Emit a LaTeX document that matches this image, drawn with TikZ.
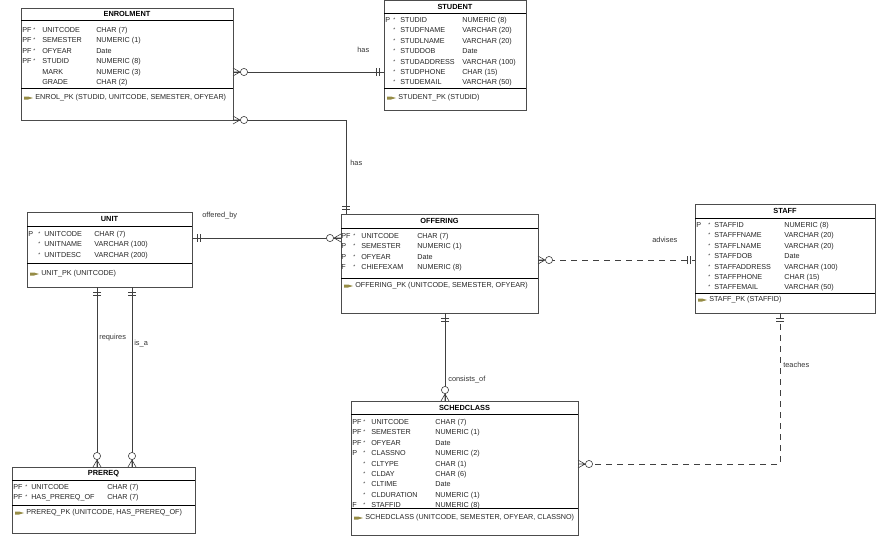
\documentclass[tikz,border=0pt]{standalone}
\usepackage{fontspec}
\setmainfont{Liberation Sans}
\usetikzlibrary{calc}
\definecolor{keyc}{RGB}{150,140,70}
\newcommand\ebox[8]{%
  \node[ent, minimum width=#4pt, minimum height=#5pt, anchor=north west] (#1) at (#2,#3) {};
  \draw (#1.north west) ++(0,#6) -- ++(#4,0);
  \draw[line width=0.9pt] (#1.north west) ++(0,#7) -- ++(#4,0);
  \node[ttl] (#1-t) at ($(#1.north west)+(#4/2,#6/2)$) {#8};
}
\newcommand\ekey[4]{%
  \fill[keyc] ($(#2,#3)+(3,-1.5)$) -- ++(4,0) -- ++(5,1.5) -- ++(-5,1.5) -- ++(-4,0) -- cycle;
  \node[txt, anchor=west] (#1) at ($(#2,#3)+(14,0)$) {#4};
}
\newcommand\stAr{\raisebox{-0.5ex}{\textsuperscript{*}}}
\begin{document}
\begin{tikzpicture}[x=1pt,y=-1pt,line width=0.6pt,
  ent/.style={draw=black!70, fill=white, inner sep=0pt, outer sep=0pt},
  ttl/.style={font=\fontsize{7.4}{8}\selectfont\bfseries, inner sep=0pt},
  txt/.style={font=\fontsize{7.2}{10.4}\selectfont, inner sep=0pt, text=black!85},
  lbl/.style={font=\fontsize{7.4}{8}\selectfont, inner sep=0pt, anchor=west, text=black!80},
  conn/.style={draw=black!75, line width=0.6pt},
  dconn/.style={conn, dash pattern=on 6pt off 5pt},
  pics/many0/.style={code={
    \draw[black!75] (0,-4)--(7,0)--(0,4) (0,0)--(7,0);
    \draw[black!75,fill=white] (11,0) circle (3.6);}},
  pics/one1/.style={code={
    \draw[black!75] (5,-4)--(5,4) (8,-4)--(8,4);}}]
\useasboundingbox (0,0) rectangle (885,547);

% ENROLMENT
\ebox{enrol}{21}{8}{212}{112}{12}{80}{ENROLMENT}
\node[txt, anchor=north west] (enrol-a) at (22,25) {\begin{tabular}{@{}p{11pt}@{}p{9pt}@{}p{54pt}@{}l@{}}
PF&\stAr&UNITCODE&CHAR (7)\\
PF&\stAr&SEMESTER&NUMERIC (1)\\
PF&\stAr&OFYEAR&Date\\
PF&\stAr&STUDID&NUMERIC (8)\\
&&MARK&NUMERIC (3)\\
&&GRADE&CHAR (2)\end{tabular}};
\ekey{enrol-k}{21}{98}{ENROL\_PK (STUDID, UNITCODE, SEMESTER, OFYEAR)}

% STUDENT
\ebox{stud}{384}{0.5}{142}{110}{12.5}{88}{STUDENT}
\node[txt, anchor=north west] (stud-a) at (385,15) {\begin{tabular}{@{}p{8pt}@{}p{7pt}@{}p{62pt}@{}l@{}}
P&\stAr&STUDID&NUMERIC (8)\\
&\stAr&STUDFNAME&VARCHAR (20)\\
&\stAr&STUDLNAME&VARCHAR (20)\\
&\stAr&STUDDOB&Date\\
&\stAr&STUDADDRESS&VARCHAR (100)\\
&\stAr&STUDPHONE&CHAR (15)\\
&\stAr&STUDEMAIL&VARCHAR (50)\end{tabular}};
\ekey{stud-k}{384}{98}{STUDENT\_PK (STUDID)}

% UNIT
\ebox{unit}{27}{212}{165}{75}{14}{51}{UNIT}
\node[txt, anchor=north west] (unit-a) at (28,229) {\begin{tabular}{@{}p{10pt}@{}p{6pt}@{}p{50pt}@{}l@{}}
P&\stAr&UNITCODE&CHAR (7)\\
&\stAr&UNITNAME&VARCHAR (100)\\
&\stAr&UNITDESC&VARCHAR (200)\end{tabular}};
\ekey{unit-k}{27}{274}{UNIT\_PK (UNITCODE)}

% OFFERING
\ebox{off}{341}{214}{197}{99}{14}{64}{OFFERING}
\node[txt, anchor=north west] (off-a) at (341,231) {\begin{tabular}{@{}p{12pt}@{}p{8pt}@{}p{56pt}@{}l@{}}
PF&\stAr&UNITCODE&CHAR (7)\\
P&\stAr&SEMESTER&NUMERIC (1)\\
P&\stAr&OFYEAR&Date\\
F&\stAr&CHIEFEXAM&NUMERIC (8)\end{tabular}};
\ekey{off-k}{341}{286}{OFFERING\_PK (UNITCODE, SEMESTER, OFYEAR)}

% STAFF
\ebox{staff}{695}{204}{180}{109}{14}{89}{STAFF}
\node[txt, anchor=north west] (staff-a) at (696,220) {\begin{tabular}{@{}p{12pt}@{}p{6pt}@{}p{70pt}@{}l@{}}
P&\stAr&STAFFID&NUMERIC (8)\\
&\stAr&STAFFFNAME&VARCHAR (20)\\
&\stAr&STAFFLNAME&VARCHAR (20)\\
&\stAr&STAFFDOB&Date\\
&\stAr&STAFFADDRESS&VARCHAR (100)\\
&\stAr&STAFFPHONE&CHAR (15)\\
&\stAr&STAFFEMAIL&VARCHAR (50)\end{tabular}};
\ekey{staff-k}{695}{300}{STAFF\_PK (STAFFID)}

% SCHEDCLASS
\ebox{sched}{351}{401}{227}{134}{13}{107}{SCHEDCLASS}
\node[txt, anchor=north west] (sched-a) at (352,417) {\begin{tabular}{@{}p{11pt}@{}p{8pt}@{}p{64pt}@{}l@{}}
PF&\stAr&UNITCODE&CHAR (7)\\
PF&\stAr&SEMESTER&NUMERIC (1)\\
PF&\stAr&OFYEAR&Date\\
P&\stAr&CLASSNO&NUMERIC (2)\\
&\stAr&CLTYPE&CHAR (1)\\
&\stAr&CLDAY&CHAR (6)\\
&\stAr&CLTIME&Date\\
&\stAr&CLDURATION&NUMERIC (1)\\
F&\stAr&STAFFID&NUMERIC (8)\end{tabular}};
\ekey{sched-k}{351}{518}{SCHEDCLASS (UNITCODE, SEMESTER, OFYEAR, CLASSNO)}

% PREREQ
\ebox{pre}{12}{467}{183}{66}{13}{38}{PREREQ}
\node[txt, anchor=north west] (pre-a) at (13,482) {\begin{tabular}{@{}p{12pt}@{}p{6pt}@{}p{76pt}@{}l@{}}
PF&\stAr&UNITCODE&CHAR (7)\\
PF&\stAr&HAS\_PREREQ\_OF&CHAR (7)\end{tabular}};
\ekey{pre-k}{12}{513}{PREREQ\_PK (UNITCODE, HAS\_PREREQ\_OF)}

% connector end points
\coordinate (e1) at (enrol.north east |- 0,72);
\coordinate (s1) at (stud.north west |- 0,72);
\coordinate (e2) at (enrol.south east);
\coordinate (b2) at (346,120);
\coordinate (o2) at (off.north west -| 346,0);
\coordinate (u3) at (unit.north east |- 0,238);
\coordinate (o3) at (off.north west |- 0,238);
\coordinate (o4) at (off.north east |- 0,260);
\coordinate (st4) at (staff.north west |- 0,260);
\coordinate (o5) at (off.south west -| 445,0);
\coordinate (sc5) at (sched.north west -| 445,0);
\coordinate (st6) at (staff.south west -| 780,0);
\coordinate (b6) at (780,464);
\coordinate (sc6) at (sched.north east |- 0,464);
\coordinate (u7) at (unit.south west -| 97,0);
\coordinate (p7) at (pre.north west -| 97,0);
\coordinate (u8) at (unit.south west -| 132,0);
\coordinate (p8) at (pre.north west -| 132,0);

\draw[conn] (e1) -- (s1);
\draw[conn] (e2) -- (b2) -- (o2);
\draw[conn] (u3) -- (o3);
\draw[dconn] (o4) -- (st4);
\draw[conn] (o5) -- (sc5);
\draw[dconn] (st6) -- (b6) -- (sc6);
\draw[conn] (u7) -- (p7);
\draw[conn] (u8) -- (p8);

\pic at (e1) {many0}; \pic[rotate=180] at (s1) {one1};
\pic at (e2) {many0}; \pic[rotate=90] at (o2) {one1};
\pic at (u3) {one1}; \pic[rotate=180] at (o3) {many0};
\pic at (o4) {many0}; \pic[rotate=180] at (st4) {one1};
\pic[rotate=-90] at (o5) {one1}; \pic[rotate=90] at (sc5) {many0};
\pic[rotate=-90] at (st6) {one1}; \pic at (sc6) {many0};
\pic[rotate=-90] at (u7) {one1}; \pic[rotate=90] at (p7) {many0};
\pic[rotate=-90] at (u8) {one1}; \pic[rotate=90] at (p8) {many0};

% labels
\node[lbl] (l1) at (357,50) {has};
\node[lbl] (l2) at (350,163) {has};
\node[lbl] (l3) at (202,216) {offered\_by};
\node[lbl] (l4) at (652,240) {advises};
\node[lbl] (l5) at (448,380) {consists\_of};
\node[lbl] (l6) at (783,365) {teaches};
\node[lbl] (l7) at (99,338) {requires};
\node[lbl] (l8) at (134,344) {is\_a};
\end{tikzpicture}
\end{document}
